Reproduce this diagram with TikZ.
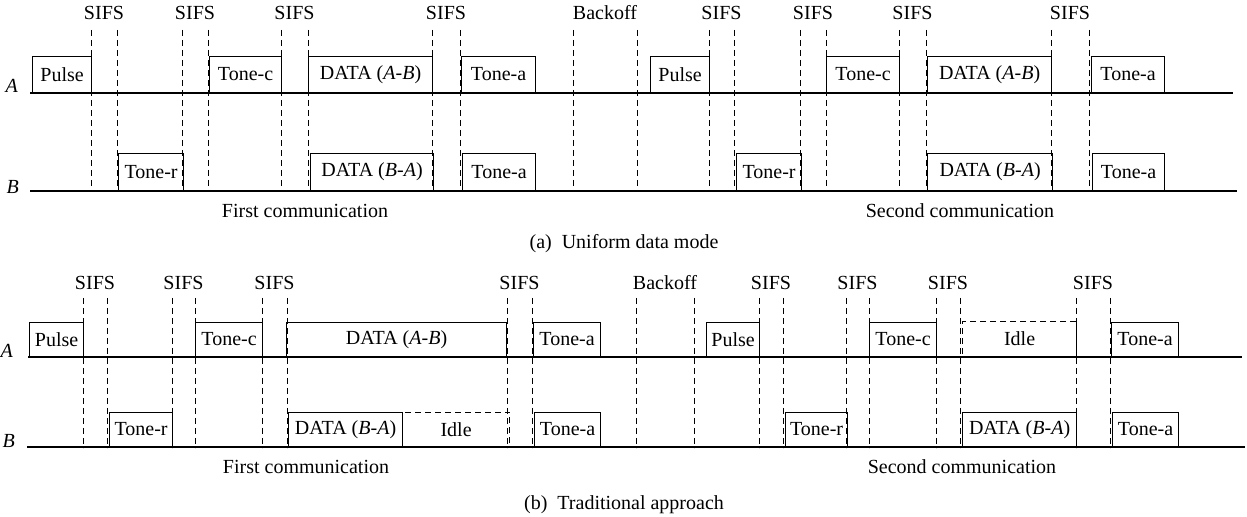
\documentclass[tikz,border=0pt]{standalone}
\usepackage{fontspec}
\setmainfont{Liberation Serif}
\begin{document}
\begin{tikzpicture}[x=0.5pt, y=-0.5pt, line width=0.6pt,
	slot/.style={draw, inner sep=0pt, anchor=south west},
	idle/.style={slot, dash pattern=on 3pt off 2pt},
	guide/.style={line width=0.5pt, dash pattern=on 3pt off 2pt}]
	\useasboundingbox (0,0) rectangle (1247,517);
	% (a) uniform data mode
	\coordinate (ua0) at (30,93); \coordinate (ua1) at (1233,93);
	\coordinate (ub0) at (30,191); \coordinate (ub1) at (1237,191);
	\draw (ua0) -- (ua1); \draw (ub0) -- (ub1);
	\node[anchor=base east, font=\itshape] (uA) at (25,93) {A};
	\node[anchor=base east, font=\itshape] (uB) at (26,194) {B};
	\foreach \a/\b/\t [count=\i] in {91/117/SIFS, 182/208/SIFS, 281/308/SIFS, 432/460/SIFS,
		573/637/Backoff, 709/734/SIFS, 800/826/SIFS, 899/926/SIFS, 1051/1089/SIFS} {
		\draw[guide] (\a,30) -- (\a,192); \draw[guide] (\b,30) -- (\b,192);
		\node[anchor=base] (ug\i) at ({(\a+\b)/2},20) {\t};
	}
	\foreach \a/\b/\t [count=\i] in {32/91/Pulse, 209/281/Tone-c, 308/432/{DATA (\textit{A}-\textit{B})},
		461/535/Tone-a, 650/709/Pulse, 826/899/Tone-c, 927/1051/{DATA (\textit{A}-\textit{B})}, 1091/1164/Tone-a}
		\node[slot, minimum width={(\b-\a)*0.5pt}, minimum height=18pt] (usa\i) at (\a,93) {\t};
	\foreach \a/\b/\t [count=\i] in {118/183/Tone-r, 310/433/{DATA (\textit{B}-\textit{A})}, 462/535/Tone-a,
		736/801/Tone-r, 927/1052/{DATA (\textit{B}-\textit{A})}, 1092/1164/Tone-a}
		\node[slot, minimum width={(\b-\a)*0.5pt}, minimum height=18.5pt] (usb\i) at (\a,191) {\t};
	\node[anchor=base] (ufirst) at (305,218) {First communication};
	\node[anchor=base] (usecond) at (960,218) {Second communication};
	\node[anchor=base] (ucap) at (624,249) {(a)\enspace Uniform data mode};
	% (b) traditional approach
	\coordinate (ta0) at (28,357); \coordinate (ta1) at (1242,357);
	\coordinate (tb0) at (27,447); \coordinate (tb1) at (1245,447);
	\draw (ta0) -- (ta1); \draw (tb0) -- (tb1);
	\node[anchor=base east, font=\itshape] (tA) at (20,358) {A};
	\node[anchor=base east, font=\itshape] (tB) at (22,448) {B};
	\foreach \a/\b/\t [count=\i] in {83/107/SIFS, 172/195/SIFS, 262/287/SIFS, 507/532/SIFS,
		636/694/Backoff, 759/783/SIFS, 846/869/SIFS, 936/960/SIFS, 1076/1110/SIFS} {
		\draw[guide] (\a,298) -- (\a,448); \draw[guide] (\b,298) -- (\b,448);
		\node[anchor=base] (tg\i) at ({(\a+\b)/2},290) {\t};
	}
	\foreach \a/\b/\t [count=\i] in {29/83/Pulse, 195/262/Tone-c, 286/506/{DATA (\textit{A}-\textit{B})},
		533/600/Tone-a, 706/759/Pulse, 869/936/Tone-c, 1111/1178/Tone-a}
		\node[slot, minimum width={(\b-\a)*0.5pt}, minimum height=17pt] (tsa\i) at (\a,357) {\t};
	\node[idle, minimum width=57pt, minimum height=17.5pt] (tidlea) at (962,357) {Idle};
	\foreach \a/\b/\t [count=\i] in {109/172/Tone-r, 288/402/{DATA (\textit{B}-\textit{A})}, 534/600/Tone-a,
		785/847/Tone-r, 962/1076/{DATA (\textit{B}-\textit{A})}, 1112/1178/Tone-a}
		\node[slot, minimum width={(\b-\a)*0.5pt}, minimum height=17pt] (tsb\i) at (\a,447) {\t};
	\node[idle, minimum width=53.5pt, minimum height=17pt] (tidleb) at (402,447) {Idle};
	\node[anchor=base] (tfirst) at (306,474) {First communication};
	\node[anchor=base] (tsecond) at (962,474) {Second communication};
	\node[anchor=base] (tcap) at (624,510) {(b)\enspace Traditional approach};
\end{tikzpicture}
\end{document}
